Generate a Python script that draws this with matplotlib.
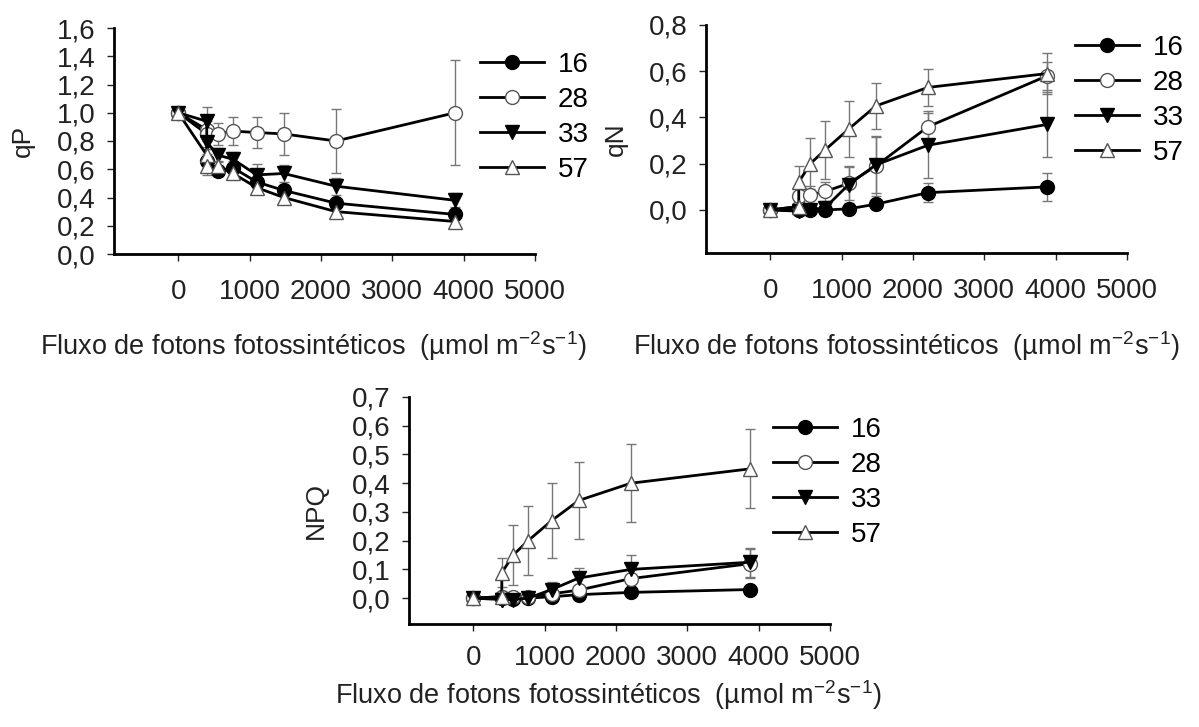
import matplotlib
matplotlib.use("Agg")
import matplotlib.pyplot as plt
from matplotlib.ticker import FuncFormatter

plt.rcParams['font.family'] = ['Liberation Sans', 'DejaVu Sans']
plt.rcParams['mathtext.default'] = 'regular'

# photon flux levels (two readings near 400)
flux = [0, 400, 400, 560, 770, 1100, 1480, 2210, 3880]
labels = ['16', '28', '33', '57']

qp_16 = [1.0, 0.85, 0.66, 0.59, 0.61, 0.51, 0.45, 0.36, 0.28]
qp_28 = [1.0, 0.88, 0.85, 0.85, 0.87, 0.86, 0.85, 0.80, 1.0]
qp_33 = [1.0, 0.94, 0.79, 0.70, 0.67, 0.56, 0.57, 0.48, 0.38]
qp_57 = [1.0, 0.70, 0.62, 0.62, 0.57, 0.47, 0.40, 0.30, 0.23]
qp_err_16 = [0, 0.05, 0.05, 0.04, 0.05, 0.04, 0.04, 0.03, 0.03]
qp_err_28 = [0, 0.08, 0.09, 0.08, 0.10, 0.11, 0.15, 0.23, 0.37]
qp_err_33 = [0, 0.10, 0.05, 0.05, 0.05, 0.08, 0.06, 0.06, 0.05]
qp_err_57 = [0, 0.04, 0.06, 0.04, 0.04, 0.04, 0.03, 0.03, 0.03]

qn_16 = [0, 0.0, 0.0, 0.0, 0.0, 0.005, 0.025, 0.075, 0.10]
qn_28 = [0, 0.015, 0.06, 0.065, 0.08, 0.115, 0.19, 0.36, 0.58]
qn_33 = [0, -0.005, -0.005, 0.0, 0.01, 0.11, 0.195, 0.28, 0.37]
qn_57 = [0, 0.015, 0.12, 0.20, 0.26, 0.35, 0.45, 0.53, 0.59]
qn_err_16 = [0, 0.01, 0.01, 0.01, 0.01, 0.01, 0.01, 0.04, 0.06]
qn_err_28 = [0, 0.03, 0.04, 0.04, 0.04, 0.07, 0.13, 0.07, 0.06]
qn_err_33 = [0, 0.01, 0.01, 0.01, 0.02, 0.08, 0.12, 0.14, 0.14]
qn_err_57 = [0, 0.02, 0.07, 0.11, 0.125, 0.12, 0.10, 0.08, 0.09]

npq_16 = [0, 0.0, 0.0, -0.003, 0.0, 0.005, 0.012, 0.02, 0.03]
npq_28 = [0, 0.005, 0.005, 0.005, 0.005, 0.015, 0.028, 0.068, 0.12]
npq_33 = [0, -0.005, -0.005, -0.005, 0.0, 0.03, 0.07, 0.10, 0.125]
npq_57 = [0, 0.005, 0.088, 0.15, 0.20, 0.27, 0.34, 0.40, 0.45]
npq_err_16 = [0, 0, 0, 0, 0, 0.005, 0.005, 0.005, 0.005]
npq_err_28 = [0, 0.005, 0.005, 0.005, 0.005, 0.01, 0.01, 0.03, 0.05]
npq_err_33 = [0, 0.005, 0.005, 0.005, 0.005, 0.025, 0.035, 0.05, 0.05]
npq_err_57 = [0, 0.01, 0.05, 0.105, 0.12, 0.13, 0.135, 0.135, 0.138]

markers = ['o', 'o', 'v', '^']
faces = ['black', 'white', 'black', 'white']
edges = ['black', '#555555', 'black', '#555555']

W, H = 1199, 727
fig = plt.figure(figsize=(W / 100, H / 100), dpi=100)


def px_box(left, right, top, bottom):
    return [left / W, 1 - bottom / H, (right - left) / W, (bottom - top) / H]


def comma(v, pos):
    return ('%.1f' % v).replace('.', ',')


def panel(box, series, errors, ylabel, ylim, yticks, label_x, leg_xy, xpad=13):
    ax = fig.add_axes(box)
    lines = []
    for y, e, m, fc, ec, lab in zip(series, errors, markers, faces, edges, labels):
        ax.errorbar(flux, y, yerr=e, fmt='none', ecolor='#777777',
                    elinewidth=1, capsize=3.5, capthick=1, zorder=2)
        ln, = ax.plot(flux, y, '-', color='black', lw=2, marker=m, ms=10,
                      mfc=fc, mec=ec, mew=1, label=lab, zorder=3)
        lines.append(ln)
    ax.set_xlim(-900, 5000)
    ax.set_ylim(*ylim)
    ax.set_xticks([0, 1000, 2000, 3000, 4000, 5000])
    ax.set_yticks(yticks)
    ax.yaxis.set_major_formatter(FuncFormatter(comma))
    for s in ['top', 'right']:
        ax.spines[s].set_visible(False)
    for s in ['left', 'bottom']:
        ax.spines[s].set_linewidth(2)
    ax.tick_params(axis='both', direction='out', length=5, width=1,
                   labelsize=20, colors='#222222')
    ax.tick_params(axis='x', pad=xpad)
    ax.tick_params(axis='y', pad=8)
    ax.set_ylabel(ylabel, fontsize=19, color='#222222')
    ax.yaxis.set_label_coords(label_x, 0.5)
    ax.legend(handles=lines, loc='upper left', bbox_to_anchor=leg_xy,
              bbox_transform=fig.transFigure, frameon=False, fontsize=20,
              handlelength=2.3, handletextpad=0.5, labelspacing=0.32,
              borderpad=0, borderaxespad=0)
    return ax


panel(px_box(114, 535, 28, 254),
      [qp_16, qp_28, qp_33, qp_57], [qp_err_16, qp_err_28, qp_err_33, qp_err_57],
      'qP', (0, 1.6), [0, 0.2, 0.4, 0.6, 0.8, 1.0, 1.2, 1.4, 1.6],
      -0.188, (480 / W, 1 - 52 / H))
panel(px_box(706, 1127, 25, 253),
      [qn_16, qn_28, qn_33, qn_57], [qn_err_16, qn_err_28, qn_err_33, qn_err_57],
      'qN', (-0.186, 0.8), [0, 0.2, 0.4, 0.6, 0.8],
      -0.185, (1075 / W, 1 - 35 / H))
panel(px_box(409, 830, 397, 624),
      [npq_16, npq_28, npq_33, npq_57], [npq_err_16, npq_err_28, npq_err_33, npq_err_57],
      'NPQ', (-0.09, 0.7), [0, 0.1, 0.2, 0.3, 0.4, 0.5, 0.6, 0.7],
      -0.192, (773 / W, 1 - 417 / H), xpad=10)

xlab = r'Fluxo de fotons fotossintéticos  (µmol m$^{-2}$s$^{-1}$)'
for x0, y0 in [(40, 355), (633, 355), (335, 704)]:
    fig.text(x0 / W, 1 - y0 / H, xlab, fontsize=19.5, va='baseline', ha='left',
             color='#222222')

fig.savefig('out.png', dpi=100)
